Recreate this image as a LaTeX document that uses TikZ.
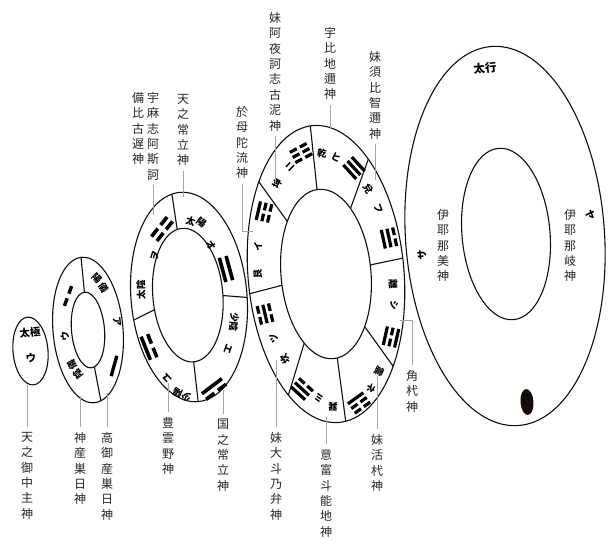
\documentclass[tikz,border=0pt]{standalone}
\usepackage{fontspec}
\setmainfont{Noto Sans CJK JP}
\newcommand\ringset[4]{\def\RCX{#1}\def\RCY{#2}\def\RA{#3}\def\RB{#4}}
\newcommand\tanrot[2]{%
  \pgfmathsetmacro\rdx{(#1-\RCX)*cos(5)+(\RCY-#2)*sin(5)}%
  \pgfmathsetmacro\rdy{-(#1-\RCX)*sin(5)+(\RCY-#2)*cos(5)}%
  \pgfmathsetmacro\rphi{atan2(\rdy/\RB,\rdx/\RA)}%
  \pgfmathsetmacro\rrot{atan2(-\RB*cos(\rphi),\RA*sin(\rphi))+5}%
}
\newcommand\ritem[4]{\tanrot{#2}{#3}\node[ringglyph, rotate=\rrot] (#1) at (#2,#3) {#4};}
\newcommand\rgua[5]{\tanrot{#3}{#4}\def\GN{#2}\pic[rotate=\rrot] (#1) at (#3,#4) {gua={#5}};}
\tikzset{
  pics/gua/.style={code={
    \foreach \v [count=\i] in {#1} {
      \pgfmathsetmacro\yy{((\GN+1)/2-\i)*\GSP}
      \ifnum\v=1
        \fill[black] (-\GL/2,\yy-\GW/2) rectangle (\GL/2,\yy+\GW/2);
      \else
        \fill[black] (-\GL/2,\yy-\GW/2) rectangle (-\GG/2,\yy+\GW/2);
        \fill[black] (\GG/2,\yy-\GW/2) rectangle (\GL/2,\yy+\GW/2);
      \fi
    }
  }}
}
\begin{document}
\begin{tikzpicture}[x=1pt,y=-1pt,
  ring/.style={line width=1.1pt, draw=black!90!brown},
  lead/.style={draw=black!35, line width=0.6pt},
  lab/.style={font=\fontsize{12}{15.4}\selectfont, text=black!85, align=center, inner sep=0pt, anchor=north},
  ringglyph/.style={font=\fontsize{9.5}{10}\selectfont\bfseries, inner sep=0pt},
]
\useasboundingbox (0,0) rectangle (610,539);

% ---------- Ring 1 ----------
\draw[ring, rotate around={5:(30.5,351)}] (30.5,351) ellipse [x radius=17.5, y radius=34];
\node[ringglyph, font=\fontsize{10.5}{11}\selectfont\bfseries, rotate=5] (t1a) at (30,333) {太極};
\node[ringglyph, font=\fontsize{10.5}{11}\selectfont\bfseries, rotate=5] (t1b) at (31,358) {ウ};

% ---------- Ring 2 ----------
\begin{scope}[shift={(88,330)}, rotate=5]
  \draw[ring] (0,0) ellipse [x radius=35, y radius=73];
  \draw[ring] (0,0) ellipse [x radius=16.5, y radius=38];
  \foreach \a in {91,281} \draw[ring] ({16.5*cos(\a)},{-38*sin(\a)}) -- ({35*cos(\a)},{-73*sin(\a)});
\end{scope}
\ringset{88}{330}{26}{55}
\def\GL{21}\def\GW{3.4}\def\GSP{6}\def\GG{5}
\ritem{r2a1}{96.6}{278.7}{陽}
\ritem{r2a2}{103.4}{287.3}{儀}
\ritem{r2b}{117}{322}{ア}
\rgua{g2a}{1}{114}{366}{1}
\ritem{r2c1}{77.9}{373.6}{陰}
\ritem{r2c2}{72.1}{364.4}{儀}
\ritem{r2d}{65}{336}{ウ}
\rgua{g2b}{1}{68}{296}{0}

% ---------- Ring 3 ----------
\begin{scope}[shift={(189,297)}, rotate=5]
  \draw[ring] (0,0) ellipse [x radius=58, y radius=105];
  \draw[ring] (-1,-2) ellipse [x radius=35, y radius=67];
  \foreach \a in {98,-3,270,190} \draw[ring] ({35*cos(\a)-1},{-67*sin(\a)-2}) -- ({58*cos(\a)},{-105*sin(\a)});
\end{scope}
\ringset{189}{297}{46}{86}
\def\GL{25}\def\GW{3.6}\def\GSP{7}\def\GG{4.5}
\ritem{r3a1}{190.6}{221.5}{太}
\ritem{r3a2}{201.2}{222.8}{陽}
\ritem{r3b}{211}{245}{オ}
\rgua{g3a}{2}{226}{269}{1,1}
\ritem{r3c}{234}{322}{少陰}
\ritem{r3d}{228}{349}{エ}
\rgua{g3b}{2}{214}{389}{1,0}
\ritem{r3e}{182}{395}{少陽}
\ritem{r3f}{167}{378}{ユ}
\rgua{g3c}{2}{149}{347}{0,1}
\ritem{r3g}{141}{290}{太陰}
\ritem{r3h}{155}{256}{ヲ}
\rgua{g3d}{2}{162}{229}{0,0}

% ---------- Ring 4 ----------
\begin{scope}[shift={(326,274)}, rotate=5]
  \draw[ring] (0,0) ellipse [x radius=78, y radius=149];
  \draw[ring] (0,0) ellipse [x radius=45, y radius=85];
  \foreach \a in {92,48,3.5,-41,-85,232,185,139} \draw[ring] ({45*cos(\a)},{-85*sin(\a)}) -- ({78*cos(\a)},{-149*sin(\a)});
\end{scope}
\ringset{326}{274}{61.5}{117}
\def\GL{19}\def\GW{3.2}\def\GSP{5.8}\def\GG{3.5}
\ritem{r4a}{322}{153}{乾}
\ritem{r4b}{336}{157}{ヒ}
\rgua{g4a}{3}{354}{168}{1,1,1}
\ritem{r4c}{368}{189}{兌}
\ritem{r4d}{378}{209}{フ}
\rgua{g4b}{3}{389}{238}{1,1,0}
\ritem{r4e}{393}{284}{離}
\ritem{r4f}{394}{305}{シ}
\rgua{g4c}{3}{391}{337}{1,0,1}
\ritem{r4g}{379}{371}{震}
\ritem{r4h}{371}{388}{ネ}
\rgua{g4d}{3}{359}{403}{1,0,0}
\ritem{r4i}{333}{407}{巽}
\ritem{r4j}{319}{398}{ミ}
\rgua{g4e}{3}{302}{389}{0,1,1}
\ritem{r4k}{285}{359}{坎}
\ritem{r4l}{274}{338}{ツ}
\rgua{g4f}{3}{265}{314}{0,1,0}
\ritem{r4m}{258}{274}{艮}
\ritem{r4n}{258}{247}{イ}
\rgua{g4g}{3}{264}{212}{0,0,1}
\ritem{r4o}{277}{184}{坤}
\ritem{r4p}{290}{167}{ニ}
\rgua{g4h}{3}{301}{153}{0,0,0}

% ---------- Ring 5 ----------
\draw[ring, rotate around={4:(505,236)}] (505,236) ellipse [x radius=99.5, y radius=190];
\draw[ring, rotate around={5:(506,234)}] (506,234) ellipse [x radius=44, y radius=86];
\fill[black!90!brown, rotate around={4:(527,402)}] (527,402) ellipse [x radius=6.5, y radius=13];
\node[ringglyph, font=\fontsize{11.5}{12}\selectfont\bfseries, rotate=5] (r5a) at (485,68) {太行};
\node[ringglyph, font=\fontsize{10}{10}\selectfont\bfseries, rotate=-80] (r5b) at (590,215) {ヤ};
\node[ringglyph, font=\fontsize{10}{10}\selectfont\bfseries, rotate=95] (r5c) at (422,255) {サ};
\node[lab] (n5a) at (443,209) {伊\\耶\\那\\美\\神};
\node[lab] (n5b) at (570,209) {伊\\耶\\那\\岐\\神};

% ---------- Labels ----------
\node[lab] (L1) at (27,432) {天\\之\\御\\中\\主\\神};
\node[lab] (L2) at (80,432) {神\\産\\巣\\日\\神};
\node[lab] (L3) at (107,432) {高\\御\\産\\巣\\日\\神};
\node[lab] (L4) at (168,417) {豊\\雲\\野\\神};
\node[lab] (L5) at (223,419) {国\\之\\常\\立\\神};
\node[lab] (L6) at (138,92) {備\\比\\古\\遅\\神};
\node[lab] (L7) at (153,92) {宇\\麻\\志\\阿\\斯\\訶};
\node[lab] (L8) at (183,94) {天\\之\\常\\立\\神};
\node[lab] (L9) at (242,106) {於\\母\\陀\\流\\神};
\node[lab] (L10) at (275,12) {妹\\阿\\夜\\訶\\志\\古\\泥\\神};
\node[lab] (L11) at (330,27) {宇\\比\\地\\邇\\神};
\node[lab] (L12) at (375,51) {妹\\須\\比\\智\\邇\\神};
\node[lab] (L13) at (276,432) {妹\\大\\斗\\乃\\弁\\神};
\node[lab] (L14) at (326,449) {意\\富\\斗\\能\\地\\神};
\node[lab] (L15) at (377,434) {妹\\活\\杙\\神};
\node[lab] (L16) at (412,370) {角\\杙\\神};

% ---------- Leaders ----------
\coordinate (c1) at (27,385);
\coordinate (c2) at (80,396);
\coordinate (c3) at (107,393);
\coordinate (c4) at (168,383);
\coordinate (c5) at (223,390);
\coordinate (c7) at (153,215);
\coordinate (c8) at (183,197);
\coordinate (c9) at (253,231);
\coordinate (c10) at (275,183);
\coordinate (c11) at (330,128);
\coordinate (c12) at (375,180);
\coordinate (c13) at (276,360);
\coordinate (c14) at (326,417);
\coordinate (c15) at (377,377);
\coordinate (c16) at (400,320);
\draw[lead, shorten >=5pt] (c1) -- (L1.north);
\draw[lead, shorten >=5pt] (c2) -- (L2.north);
\draw[lead, shorten >=5pt] (c3) -- (L3.north);
\draw[lead, shorten >=5pt] (c4) -- (L4.north);
\draw[lead, shorten >=5pt] (c5) -- (L5.north);
\draw[lead, shorten >=5pt] (c13) -- (L13.north);
\draw[lead, shorten >=5pt] (c14) -- (L14.north);
\draw[lead, shorten >=5pt] (c15) -- (L15.north);
\draw[lead, shorten >=5pt] (c16) -| (L16.north);
\draw[lead, shorten <=5pt] (L7.south) -- (c7);
\draw[lead, shorten <=5pt] (L8.south) -- (c8);
\draw[lead, shorten <=5pt] (L9.south) |- (c9);
\draw[lead, shorten <=5pt] (L10.south) -- (c10);
\draw[lead, shorten <=5pt] (L11.south) -- (c11);
\draw[lead, shorten <=5pt] (L12.south) -- (c12);
\end{tikzpicture}
\end{document}
